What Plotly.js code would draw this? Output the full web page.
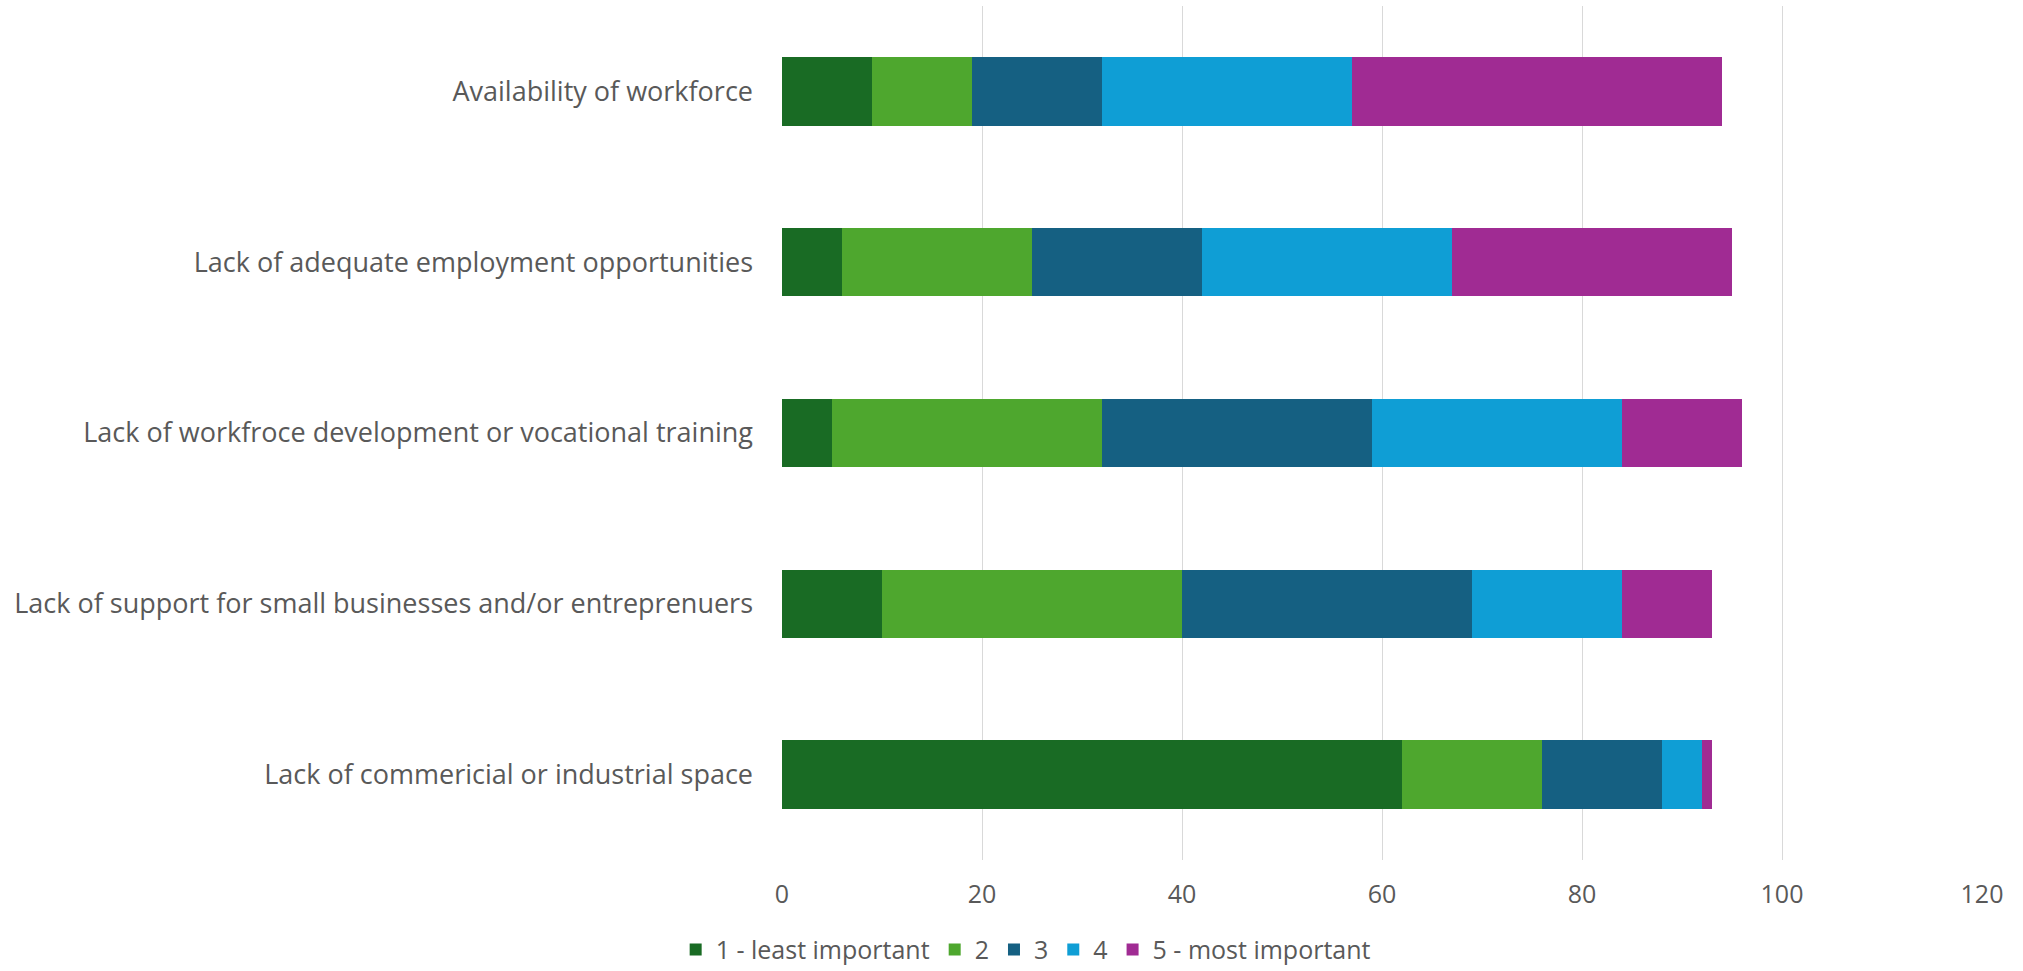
<!DOCTYPE html>
<html>
<head>
<meta charset="utf-8">
<script src="https://cdn.plot.ly/plotly-3.0.1.min.js"></script>
<style>html,body{margin:0;padding:0;background:#fff;}#chart{width:2023px;height:971px;}</style>
</head>
<body>
<div id="chart"></div>
<script>
const categories = [
  "Availability of workforce",
  "Lack of adequate employment opportunities",
  "Lack of workfroce development or vocational training",
  "Lack of support for small businesses and/or entreprenuers",
  "Lack of commericial or industrial space"
];
const seriesNames = ["1 - least important", "2", "3", "4", "5 - most important"];
const s1 = [9, 6, 5, 10, 62];
const s2 = [10, 19, 27, 30, 14];
const s3 = [13, 17, 27, 29, 12];
const s4 = [25, 25, 25, 15, 4];
const s5 = [37, 28, 12, 9, 1];
const xTicks = [0, 20, 40, 60, 80, 100, 120];
const colors = ["#196B24", "#4EA72E", "#156082", "#0F9ED5", "#A02B93"];

const allSeries = [s1, s2, s3, s4, s5];
const traces = allSeries.map((vals, i) => ({
  type: "bar",
  orientation: "h",
  name: seriesNames[i],
  y: categories,
  x: vals,
  width: 0.4,
  marker: {color: colors[i], line: {width: 0}},
  hoverinfo: "x+name"
}));

const font = "Open Sans, Noto Sans, sans-serif";
const layout = {
  barmode: "stack",
  width: 2023,
  height: 971,
  margin: {l: 782, r: 41, t: 6, b: 111},
  paper_bgcolor: "#ffffff",
  plot_bgcolor: "#ffffff",
  font: {family: font, color: "#595959", size: 26},
  xaxis: {
    range: [0, 120],
    tickvals: xTicks,
    ticktext: xTicks.map(String),
    showgrid: true,
    gridcolor: "#d9d9d9",
    gridwidth: 1,
    zeroline: false,
    showline: false,
    ticks: "",
    ticklabelstandoff: 17,
    tickfont: {size: 25, color: "#595959", family: font}
  },
  yaxis: {
    autorange: "reversed",
    showgrid: false,
    zeroline: false,
    showline: false,
    ticks: "",
    ticklabelstandoff: 28,
    tickfont: {size: 27, color: "#595959", family: font}
  },
  showlegend: true,
  legend: {
    orientation: "h",
    xref: "container",
    yref: "container",
    x: 0.507,
    xanchor: "center",
    y: 0.022,
    yanchor: "middle",
    font: {size: 25, color: "#595959", family: font},
    itemwidth: 30,
    traceorder: "normal"
  }
};

Plotly.newPlot("chart", traces, layout, {displayModeBar: false, staticPlot: true});
</script>
</body>
</html>
